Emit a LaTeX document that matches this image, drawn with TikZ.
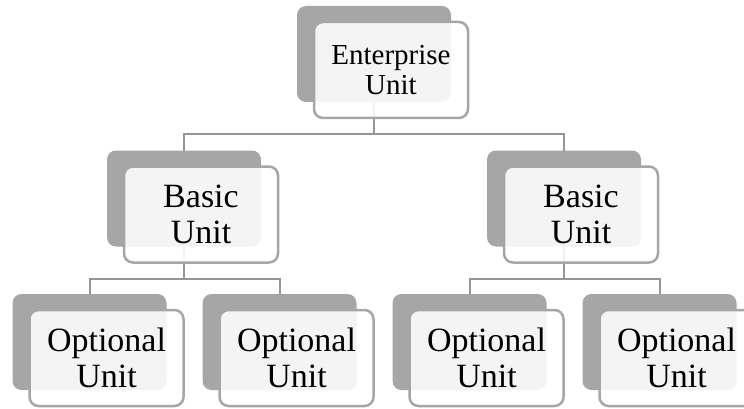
\documentclass[tikz,border=0pt]{standalone}
\usepackage{fontspec}
\setmainfont{Liberation Serif}
\definecolor{backgray}{HTML}{A6A6A6}
\definecolor{bordergray}{HTML}{A6A6A6}
\definecolor{conngray}{HTML}{959595}
\begin{document}
\begin{tikzpicture}[x=1pt,y=-1pt,
  backbox/.style={rectangle, rounded corners=9pt, fill=backgray, minimum width=154pt, minimum height=96pt, inner sep=0pt, outer sep=0pt},
  frontbox/.style={rectangle, rounded corners=9pt, draw=bordergray, line width=2.5pt, fill=white, fill opacity=0.88, text opacity=1, text=black, minimum width=154pt, minimum height=96pt, align=center, inner sep=0pt, outer sep=0pt},
  conn/.style={draw=conngray, line width=2pt},
  bigtext/.style={font=\fontsize{34}{36}\selectfont},
  smalltext/.style={font=\fontsize{29}{30}\selectfont}]
\useasboundingbox (0,0) rectangle (744,409);
\clip (0,0) rectangle (744,409);
% back boxes
\node[backbox] (eb) at (374,54) {};
\node[backbox] (blb) at (184,198.5) {};
\node[backbox] (brb) at (564,198.5) {};
\node[backbox] (o1b) at (89.5,342) {};
\node[backbox] (o2b) at (279.5,342) {};
\node[backbox] (o3b) at (469.5,342) {};
\node[backbox] (o4b) at (659.5,342) {};
% connector levels
\coordinate (lv1) at (0,134);
\coordinate (lv2) at (0,279);
\draw[conn] (eb.south) -- (eb.south |- lv1);
\draw[conn] (blb.north) |- (brb.north |- lv1) -- (brb.north);
\draw[conn] (blb.south) -- (blb.south |- lv2);
\draw[conn] (o1b.north) |- (o2b.north |- lv2) -- (o2b.north);
\draw[conn] (brb.south) -- (brb.south |- lv2);
\draw[conn] (o3b.north) |- (o4b.north |- lv2) -- (o4b.north);
% front boxes
\node[frontbox, smalltext] (ef) at (391,70) {Enterprise\\Unit};
\node[frontbox, bigtext] (blf) at (201,214.5) {Basic\\Unit};
\node[frontbox, bigtext] (brf) at (581,214.5) {Basic\\Unit};
\node[frontbox, bigtext] (o1f) at (106.5,358) {Optional\\Unit};
\node[frontbox, bigtext] (o2f) at (296.5,358) {Optional\\Unit};
\node[frontbox, bigtext] (o3f) at (486.5,358) {Optional\\Unit};
\node[frontbox, bigtext] (o4f) at (676.5,358) {Optional\\Unit};
\end{tikzpicture}
\end{document}
